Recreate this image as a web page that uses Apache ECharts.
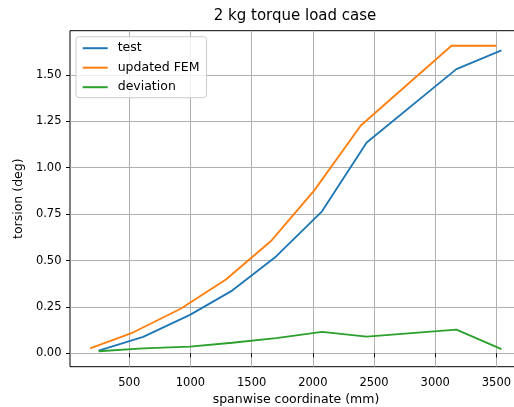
<!DOCTYPE html>
<html>
<head>
<meta charset="utf-8">
<script src="https://cdn.jsdelivr.net/npm/echarts@6/dist/echarts.min.js"></script>
<style>
  html, body { margin: 0; padding: 0; background: #fff; overflow: hidden; }
  /* the plot frame runs a few pixels past the right edge of the window */
  #chart { width: 530px; height: 407px; }
</style>
</head>
<body>
<div id="chart"></div>
<script>
// Torsion along the span for the 2 kg torque load case
const testX = [250, 614, 996, 1341, 1700, 2075, 2440, 3173, 3541];
const testY = [0.015, 0.089, 0.207, 0.338, 0.522, 0.765, 1.136, 1.531, 1.632];

const femX = [180, 530, 920, 1290, 1663, 2012, 2392, 3135, 3500];
const femY = [0.027, 0.112, 0.240, 0.398, 0.608, 0.878, 1.227, 1.658, 1.657];

const devX = [250, 614, 996, 1341, 1700, 2075, 2440, 3173, 3541];
const devY = [0.011, 0.027, 0.036, 0.057, 0.082, 0.116, 0.090, 0.128, 0.023];

const xTicks = [500, 1000, 1500, 2000, 2500, 3000, 3500];
const yTicks = [0, 0.25, 0.5, 0.75, 1.0, 1.25, 1.5];

const seriesNames = ['test', 'updated FEM', 'deviation'];
const colors = ['#1f77b4', '#ff7f0e', '#2ca02c'];

const pairs = (xs, ys) => xs.map((x, i) => [x, ys[i]]);

const FONT = 'DejaVu Sans';
const TICK_FONT = 11.5;
const LABEL_FONT = 12.5;
const chart = echarts.init(document.getElementById('chart'), null, { renderer: 'canvas' });

const lineSeries = (name, data, color) => ({
  name: name,
  type: 'line',
  data: data,
  symbol: 'none',
  showSymbol: false,
  animation: false,
  lineStyle: { color: color, width: 1.85 },
  itemStyle: { color: color }
});

chart.setOption({
  animation: false,
  backgroundColor: '#ffffff',
  title: {
    text: '2 kg torque load case',
    left: 295,
    top: 9,
    padding: 0,
    textAlign: 'center',
    textStyle: { fontFamily: FONT, fontSize: 15, fontWeight: 'normal', color: '#000' }
  },
  grid: {
    left: 70,
    top: 30.7,
    width: 452,
    height: 336,
    show: true,
    borderColor: '#000',
    borderWidth: 1,
    backgroundColor: 'transparent',
    containLabel: false,
    outerBoundsMode: 'none'
  },
  legend: {
    orient: 'vertical',
    left: 76,
    top: 36.7,
    padding: [5, 7, 4, 5.7],
    itemGap: 6.5,
    itemWidth: 25,
    itemHeight: 14,
    backgroundColor: 'rgba(255,255,255,0.8)',
    borderColor: '#cccccc',
    borderWidth: 1,
    borderRadius: 3,
    itemStyle: { opacity: 0 },
    data: seriesNames,
    textStyle: { fontFamily: FONT, fontSize: LABEL_FONT, color: '#000', padding: [0, 0, 0, 5] }
  },
  xAxis: {
    type: 'value',
    min: 16,
    max: 3709,
    name: 'spanwise coordinate (mm)',
    nameLocation: 'middle',
    nameGap: 25.5,
    nameTextStyle: { fontFamily: FONT, fontSize: LABEL_FONT, color: '#000' },
    axisLine: { show: false },
    axisTick: { show: true, inside: false, length: 4, customValues: xTicks, lineStyle: { color: '#000', width: 1 } },
    axisLabel: {
      customValues: xTicks,
      margin: 10,
      fontFamily: FONT,
      fontSize: TICK_FONT,
      color: '#000',
      formatter: v => String(v)
    },
    splitLine: { show: true, lineStyle: { color: '#b0b0b0', width: 1 } }
  },
  yAxis: {
    type: 'value',
    min: -0.072,
    max: 1.738,
    name: 'torsion (deg)',
    nameLocation: 'middle',
    nameGap: 41,
    nameTextStyle: { fontFamily: FONT, fontSize: LABEL_FONT, color: '#000' },
    axisLine: { show: false },
    axisTick: { show: true, inside: false, length: 4, customValues: yTicks, lineStyle: { color: '#000', width: 1 } },
    axisLabel: {
      customValues: yTicks,
      margin: 8.5,
      fontFamily: FONT,
      fontSize: TICK_FONT,
      color: '#000',
      formatter: v => v.toFixed(2)
    },
    splitLine: { show: true, lineStyle: { color: '#b0b0b0', width: 1 } }
  },
  series: [
    lineSeries(seriesNames[0], pairs(testX, testY), colors[0]),
    lineSeries(seriesNames[1], pairs(femX, femY), colors[1]),
    lineSeries(seriesNames[2], pairs(devX, devY), colors[2])
  ]
});
</script>
</body>
</html>
